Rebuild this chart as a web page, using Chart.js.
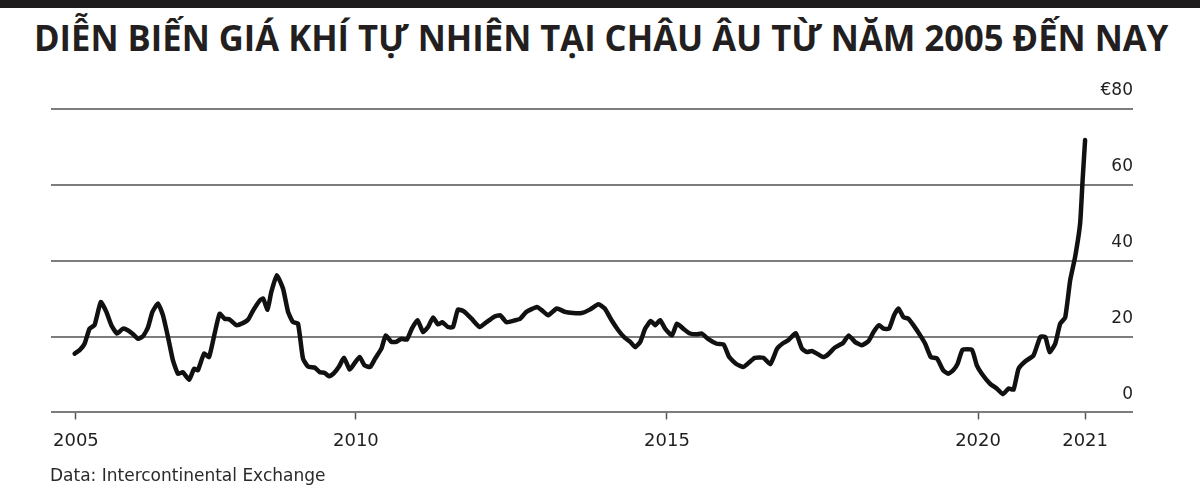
<!DOCTYPE html>
<html lang="vi">
<head>
<meta charset="utf-8">
<title>Diễn biến giá khí tự nhiên tại châu Âu</title>
<script src="https://cdn.jsdelivr.net/npm/chart.js@4/dist/chart.umd.min.js"></script>
<style>
  html, body { margin: 0; padding: 0; background: #fff; }
  .page { position: relative; width: 1200px; height: 499px; overflow: hidden; }
  .topbar { position: absolute; left: 0; top: 0; width: 1200px; height: 8px; background: #1e1c1d; }
  .title {
    position: absolute; left: 34px; top: 20px; margin: 0;
    font: 700 35px/1 "Open Sans", "Noto Sans", sans-serif;
    color: #231f20; white-space: nowrap; transform-origin: 0 0;
  }
  .source {
    position: absolute; left: 50px; top: 467px;
    font: 17px/1 "DejaVu Sans", sans-serif; color: #2a2a2a; white-space: nowrap;
  }
  .chart-box { position: absolute; left: 0; top: 0; width: 1200px; height: 499px; }
</style>
</head>
<body>
<div class="page">
  <div class="topbar"></div>
  <h1 class="title" id="title">DIỄN BIẾN GIÁ KHÍ TỰ NHIÊN TẠI CHÂU ÂU TỪ NĂM 2005 ĐẾN NAY</h1>
  <div class="chart-box"><canvas id="chart" width="1200" height="499"></canvas></div>
  <div class="source">Data: Intercontinental Exchange</div>
</div>
<script>
// gas price, euro per MWh (x in decimal years)
const years = [
  2005.48, 2005.56, 2005.64, 2005.72, 2005.80, 2005.90, 2005.99, 2006.07, 2006.16, 2006.26,
  2006.34, 2006.42, 2006.50, 2006.58, 2006.66, 2006.73, 2006.82, 2006.90, 2006.98, 2007.06,
  2007.14, 2007.22, 2007.32, 2007.40, 2007.46, 2007.56, 2007.64, 2007.73, 2007.81, 2007.89,
  2007.97, 2008.08, 2008.19, 2008.27, 2008.35, 2008.46, 2008.51, 2008.58, 2008.64, 2008.73,
  2008.83, 2008.91, 2008.99, 2009.07, 2009.15, 2009.23, 2009.34, 2009.42, 2009.50, 2009.57,
  2009.64, 2009.73, 2009.81, 2009.90, 2009.98, 2010.06, 2010.14, 2010.23, 2010.31, 2010.41,
  2010.48, 2010.57, 2010.65, 2010.73, 2010.82, 2010.90, 2010.99, 2011.08, 2011.16, 2011.24,
  2011.32, 2011.39, 2011.48, 2011.56, 2011.64, 2011.73, 2011.86, 2011.99, 2012.10, 2012.23,
  2012.32, 2012.42, 2012.56, 2012.64, 2012.74, 2012.91, 2012.99, 2013.09, 2013.23, 2013.36,
  2013.49, 2013.63, 2013.76, 2013.90, 2014.00, 2014.11, 2014.22, 2014.32, 2014.41, 2014.49,
  2014.57, 2014.65, 2014.74, 2014.81, 2014.89, 2014.97, 2015.08, 2015.16, 2015.26, 2015.37,
  2015.48, 2015.56, 2015.66, 2015.80, 2015.91, 2016.00, 2016.12, 2016.23, 2016.33, 2016.41,
  2016.55, 2016.66, 2016.77, 2016.87, 2016.95, 2017.07, 2017.17, 2017.25, 2017.33, 2017.41,
  2017.51, 2017.59, 2017.70, 2017.83, 2017.92, 2018.02, 2018.13, 2018.24, 2018.32, 2018.41,
  2018.48, 2018.57, 2018.65, 2018.72, 2018.80, 2018.88, 2018.96, 2019.07, 2019.15, 2019.24,
  2019.34, 2019.44, 2019.52, 2019.60, 2019.67, 2019.75, 2019.90, 2019.98, 2020.06, 2020.19,
  2020.30, 2020.40, 2020.49, 2020.57, 2020.65, 2020.76, 2020.89, 2021.00, 2021.08, 2021.15,
  2021.24, 2021.32, 2021.40, 2021.48, 2021.56, 2021.64, 2021.68, 2021.72
];
const prices = [
  15.5, 16.4, 18.1, 22.1, 23.0, 29.1, 26.5, 23.0, 20.8, 22.1,
  21.6, 20.6, 19.4, 20.1, 22.5, 26.5, 28.7, 25.6, 19.9, 13.7,
  10.2, 10.6, 8.6, 11.5, 11.1, 15.5, 14.6, 20.8, 26.0, 24.7,
  24.5, 23.0, 23.6, 24.5, 26.9, 29.6, 30.0, 27.1, 31.7, 36.2,
  32.6, 26.5, 23.8, 23.4, 14.2, 12.1, 11.8, 10.6, 10.4, 9.5,
  10.2, 12.1, 14.4, 11.3, 13.0, 14.6, 12.4, 12.0, 14.2, 16.8,
  20.3, 18.6, 18.6, 19.4, 19.2, 22.1, 24.3, 21.2, 22.5, 25.0,
  23.2, 23.8, 22.5, 22.5, 27.1, 26.7, 24.7, 22.5, 23.8, 25.3,
  25.6, 23.8, 24.3, 24.7, 26.5, 27.8, 26.9, 25.6, 27.4, 26.5,
  26.2, 26.2, 27.1, 28.5, 27.4, 24.3, 21.6, 19.7, 18.6, 17.2,
  18.6, 22.1, 24.1, 23.0, 24.3, 22.1, 20.3, 23.4, 22.1, 20.8,
  20.6, 20.8, 19.4, 18.1, 17.9, 14.6, 12.7, 12.0, 13.3, 14.4,
  14.4, 12.7, 16.8, 18.3, 19.0, 20.9, 16.8, 15.9, 16.2, 15.5,
  14.6, 15.3, 17.1, 18.3, 20.3, 18.6, 17.7, 18.8, 21.2, 23.0,
  22.1, 22.1, 25.6, 27.4, 25.1, 24.7, 23.0, 20.3, 18.1, 14.6,
  14.2, 11.1, 10.2, 11.1, 12.8, 16.5, 16.5, 12.4, 10.2, 7.6,
  6.3, 4.8, 6.3, 6.0, 11.5, 13.5, 15.0, 19.9, 19.9, 15.9,
  18.1, 23.4, 25.0, 34.8, 41.0, 49.8, 61.2, 71.8
];
// where the x labels sit on the time axis, and what they read
const tickYears = [2005.5, 2010, 2015, 2020, 2021.72];
const tickLabels = ['2005', '2010', '2015', '2020', '2021'];
const yTicks = [0, 20, 40, 60, 80];

// squeeze the title to the width it has in the print
const title = document.getElementById('title');
title.style.transform = 'scaleX(' + (1134 / title.scrollWidth) + ')';

const points = years.map((x, i) => ({ x: x, y: prices[i] }));

new Chart(document.getElementById('chart'), {
  type: 'line',
  data: {
    datasets: [{
      data: points,
      borderColor: '#111',
      borderWidth: 4.5,
      borderJoinStyle: 'round',
      borderCapStyle: 'round',
      pointRadius: 0,
      tension: 0.15,
      fill: false
    }]
  },
  options: {
    responsive: false,
    animation: false,
    layout: { padding: { left: 51, right: 67, top: 109, bottom: 36 } },
    plugins: {
      legend: { display: false },
      tooltip: { enabled: false }
    },
    scales: {
      x: {
        type: 'linear',
        min: 2005.1,
        max: 2022.49,
        afterBuildTicks: (axis) => {
          axis.ticks = tickYears.map((v) => ({ value: v }));
        },
        border: { display: false },
        grid: {
          drawOnChartArea: false,
          drawTicks: true,
          tickLength: 7,
          tickColor: '#555',
          tickWidth: 1.5
        },
        ticks: {
          autoSkip: false,
          maxRotation: 0,
          padding: 11,
          color: '#1f1f1f',
          font: { family: 'DejaVu Sans', size: 18 },
          callback: (value, index) => tickLabels[index]
        }
      },
      y: {
        position: 'right',
        min: 0,
        max: 80,
        afterBuildTicks: (axis) => {
          axis.ticks = yTicks.map((v) => ({ value: v }));
        },
        border: { display: false },
        grid: {
          color: '#7d7d7d',
          lineWidth: 2,
          drawTicks: false
        },
        ticks: {
          mirror: true,
          padding: 0,
          labelOffset: -18,
          color: '#1f1f1f',
          font: { family: 'DejaVu Sans', size: 17 },
          callback: (value) => (value === 80 ? '€' + value : value)
        }
      }
    }
  }
});
</script>
</body>
</html>
